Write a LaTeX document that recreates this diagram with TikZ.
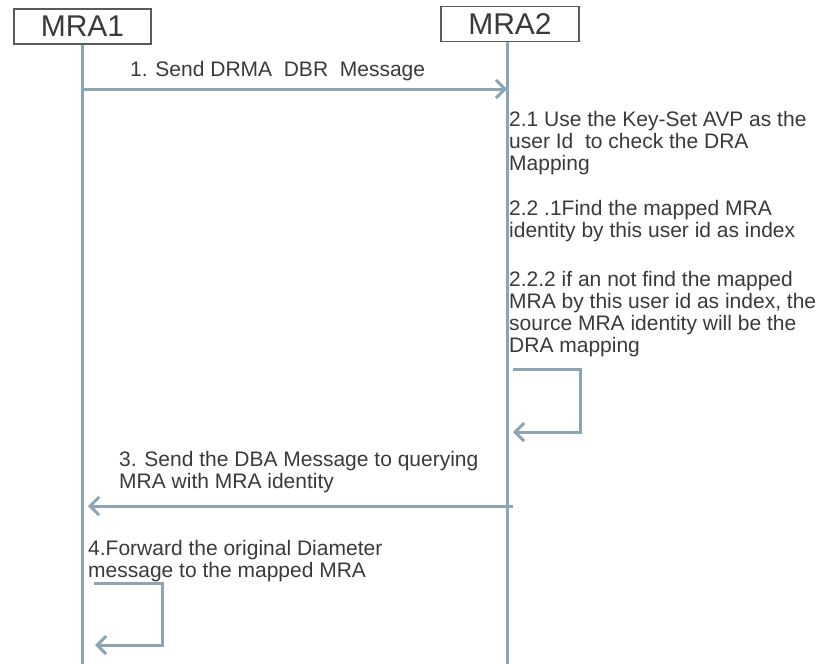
\documentclass[tikz,border=0pt]{standalone}
\usepackage{fontspec}
\setmainfont{Liberation Sans}
\usetikzlibrary{arrows.meta}
\definecolor{life}{RGB}{140,165,178}
\definecolor{txt}{RGB}{58,58,58}
\definecolor{boxc}{RGB}{90,90,90}
\tikzset{
  actor/.style={draw=boxc, line width=1.4pt, fill=white, minimum height=35pt, inner sep=0pt, font=\fontsize{30}{32}\selectfont, text=txt},
  lifeline/.style={draw=life, line width=3pt},
  msg/.style={draw=life, line width=3pt, -{Straight Barb[length=9pt,width=18pt,line width=3pt]}},
  lbl/.style={anchor=base west, align=left, inner sep=0pt, text=txt, font=\fontsize{21}{21.7}\selectfont}
}
\begin{document}
\begin{tikzpicture}[x=1pt,y=-1pt]
\useasboundingbox (0,0) rectangle (817,664);
% actors
\node[actor, minimum width=137pt] (mra1) at (82.5,26.5) {MRA1};
\node[actor, minimum width=138pt] (mra2) at (510,24) {MRA2};
% lifelines
\coordinate (e1) at (82,664);
\coordinate (e2) at (507,664);
\draw[lifeline] (mra1.south -| e1) -- (e1);
\draw[lifeline] (mra2.south -| e2) -- (e2);
% message 1
\coordinate (m1a) at (82,89);
\coordinate (m1b) at (507,89);
\draw[msg] (m1a) -- (m1b);
\node[lbl] (l1) at (130,76) {1. Send DRMA\ \ DBR\ \ Message};
% step 2 labels (anchor = baseline of last line)
\node[lbl] (l21) at (509,170) {2.1 Use the Key-Set AVP as the\\user Id\ \ to check the DRA\\Mapping};
\node[lbl] (l221) at (509,237) {2.2 .1Find the mapped MRA\\identity by this user id as index};
\node[lbl] (l222) at (509,352) {2.2.2 if an not find the mapped\\MRA by this user id as index, the\\source MRA identity will be the\\DRA mapping};
% self loop MRA2
\coordinate (s2a) at (513,369);
\coordinate (s2b) at (580,369);
\coordinate (s2c) at (580,432);
\coordinate (s2d) at (513,432);
\draw[msg] (s2a) -- (s2b) -- (s2c) -- (s2d);
% message 3
\coordinate (m3a) at (513,506);
\coordinate (m3b) at (88,506);
\draw[msg] (m3a) -- (m3b);
\node[lbl] (l3) at (119,488) {3. Send the DBA Message to querying\\MRA with MRA identity};
% step 4
\node[lbl] (l4) at (88,577) {4.Forward the original Diameter\\message to the mapped MRA};
\coordinate (s1a) at (94,583);
\coordinate (s1b) at (162,583);
\coordinate (s1c) at (162,645);
\coordinate (s1d) at (95,645);
\draw[msg] (s1a) -- (s1b) -- (s1c) -- (s1d);
\end{tikzpicture}
\end{document}
